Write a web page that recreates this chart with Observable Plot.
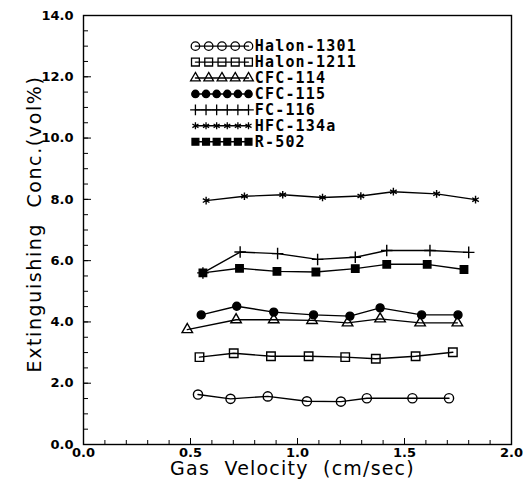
<!DOCTYPE html>
<html><head><meta charset="utf-8">
<script src="https://cdn.jsdelivr.net/npm/d3@7"></script>
<script src="https://cdn.jsdelivr.net/npm/@observablehq/plot@0.6"></script>
<style>body{margin:0;background:#fff}</style>
</head><body><div id="chart"></div>
<script>
// ---- data (gas velocity cm/sec, extinguishing conc. vol%) ----
const seriesNames = ["Halon-1301","Halon-1211","CFC-114","CFC-115","FC-116","HFC-134a","R-502"];
const halon1301V = [0.535,0.687,0.861,1.044,1.203,1.324,1.537,1.708];
const halon1301C = [1.63,1.49,1.57,1.41,1.40,1.51,1.51,1.51];
const halon1211V = [0.542,0.702,0.876,1.052,1.223,1.366,1.552,1.726];
const halon1211C = [2.85,2.98,2.88,2.88,2.85,2.80,2.88,3.01];
const cfc114V = [0.485,0.713,0.889,1.068,1.234,1.386,1.573,1.747];
const cfc114C = [3.75,4.07,4.07,4.05,3.97,4.10,3.97,3.97];
const cfc115V = [0.550,0.716,0.889,1.075,1.245,1.386,1.580,1.750];
const cfc115C = [4.23,4.51,4.32,4.23,4.19,4.46,4.23,4.23];
const fc116V = [0.558,0.732,0.907,1.094,1.270,1.417,1.619,1.800];
const fc116C = [5.60,6.28,6.23,6.04,6.11,6.33,6.33,6.27];
const hfc134aV = [0.573,0.752,0.931,1.117,1.296,1.448,1.650,1.832];
const hfc134aC = [7.96,8.10,8.15,8.06,8.11,8.25,8.18,7.99];
const r502V = [0.558,0.729,0.904,1.086,1.270,1.417,1.606,1.778];
const r502C = [5.60,5.75,5.65,5.63,5.74,5.88,5.88,5.71];

const xTicks = [0.0,0.5,1.0,1.5,2.0];
const yTicks = [0,2,4,6,8,10,12,14];
const xLabel = "Gas  Velocity  (cm/sec)";
const yLabel = "Extinguishing  Conc.(vol%)";

const seriesV = [halon1301V,halon1211V,cfc114V,cfc115V,fc116V,hfc134aV,r502V];
const seriesC = [halon1301C,halon1211C,cfc114C,cfc115C,fc116C,hfc134aC,r502C];
const styles = [
  {symbol:"circle", r:4.6, fill:"none"},
  {symbol:"square", r:4.8, fill:"none"},
  {symbol:"triangle", r:3.9, fill:"none"},
  {symbol:"circle", r:4.0, fill:"black"},
  {symbol:"plus", r:3.8, fill:"none"},
  {symbol:"asterisk", r:3.6, fill:"none"},
  {symbol:"square", r:4.2, fill:"black"}
];
const legendCount = [5,5,5,6,6,6,6];

const rows = [];
seriesNames.forEach((s,i) => seriesV[i].forEach((v,j) => rows.push({series:s, v, c:seriesC[i][j]})));

// legend layout (in data units)
const legX0 = 0.523, legX1 = 0.771, legText = 0.80, legY0 = 13.0, legStep = 0.52;

const marks = [];
marks.push(Plot.frame({stroke:"black", strokeWidth:1.4}));
// inward ticks
const xMinor = d3.range(0,2.0001,0.1).map(d=>+d.toFixed(2));
const yMinor = d3.range(0,14.0001,0.5);
marks.push(Plot.tickX(xMinor, {x:d=>d, insetTop:425, stroke:"black"}));
marks.push(Plot.tickX(xTicks, {x:d=>d, insetTop:423, stroke:"black"}));
marks.push(Plot.tickY(yMinor, {y:d=>d, insetRight:423, stroke:"black"}));
marks.push(Plot.tickY(yTicks, {y:d=>d, insetRight:420, stroke:"black"}));

marks.push(Plot.axisX(xTicks, {tickSize:0, tickPadding:3, tickFormat:d3.format(".1f"), fontSize:13, fontWeight:"bold", fontFamily:"DejaVu Sans", label:null}));
marks.push(Plot.axisY(yTicks, {tickSize:0, tickPadding:10, tickFormat:d3.format(".1f"), fontSize:13, fontWeight:"bold", fontFamily:"DejaVu Sans", label:null}));

marks.push(Plot.line(rows, {x:"v", y:"c", z:"series", stroke:"black", strokeWidth:1.4}));
seriesNames.forEach((s,i) => {
  const st = styles[i];
  marks.push(Plot.dot(rows.filter(d=>d.series===s), {x:"v", y:"c", symbol:st.symbol, r:st.r, fill:st.fill, stroke:"black", strokeWidth:1.4}));
  // legend
  const ly = legY0 - i*legStep;
  const n = legendCount[i];
  const lx = d3.range(n).map(k => legX0 + k*(legX1-legX0)/(n-1));
  marks.push(Plot.line([legX0, legX1], {x:d=>d, y:()=>ly, stroke:"black", strokeWidth:1.4}));
  marks.push(Plot.dot(lx, {x:d=>d, y:()=>ly, symbol:st.symbol, r:st.r*0.92, fill:st.fill, stroke:"black", strokeWidth:1.3}));
  marks.push(Plot.text([s], {x:()=>legText, y:()=>ly, text:d=>d, textAnchor:"start", fontFamily:"DejaVu Sans Mono", fontWeight:"bold", fontSize:15, fill:"black"}));
});

marks.push(Plot.text([xLabel], {frameAnchor:"bottom", lineAnchor:"middle", textAnchor:"middle", dy:24, dx:-5, text:d=>d, fontFamily:"DejaVu Sans", fontSize:19, fill:"black"}));
marks.push(Plot.text([yLabel], {frameAnchor:"left", lineAnchor:"middle", textAnchor:"middle", dx:-49, dy:-6, rotate:-90, text:d=>d, fontFamily:"DejaVu Sans", fontSize:19, fill:"black"}));

const chart = Plot.plot({
  width:523, height:486,
  marginLeft:83, marginRight:12, marginTop:15, marginBottom:42,
  x:{domain:[0,2]}, y:{domain:[0,14]},
  style:{background:"white", color:"black", fontFamily:"DejaVu Sans"},
  marks
});
d3.select(chart).selectAll("text").each(function(){
  const t = this.textContent;
  if (seriesNames.includes(t)) { this.setAttribute("letter-spacing", "1.2"); }
  if (t === xLabel) { this.setAttribute("letter-spacing", "1.2"); this.style.whiteSpace = "pre"; }
  if (t === yLabel) { this.setAttribute("letter-spacing", "1.6"); this.style.whiteSpace = "pre"; }
});
document.getElementById("chart").appendChild(chart);
</script>
</body></html>
